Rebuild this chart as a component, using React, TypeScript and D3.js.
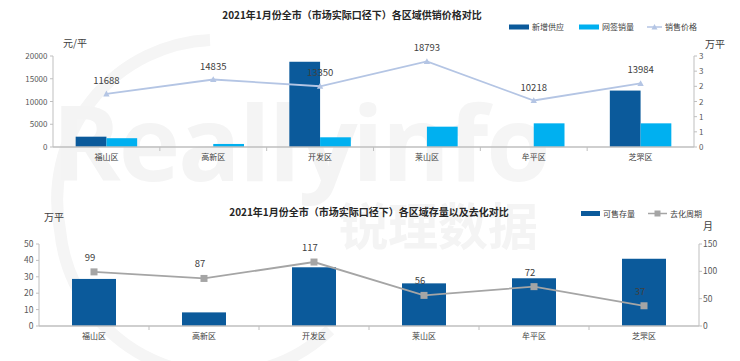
import React from "react";
import * as d3 from "d3";

const categories = ["福山区", "高新区", "开发区", "莱山区", "牟平区", "芝罘区"];
const newSupply = [0.34, 0, 2.81, 0, 0, 1.86];
const netSales = [0.29, 0.1, 0.32, 0.67, 0.78, 0.78];
const salePrice = [11688, 14835, 13350, 18793, 10218, 13984];
const priceTicks = [0, 5000, 10000, 15000, 20000];
const areaTicks = [0, 0.5, 1, 1.5, 2, 2.5, 3];

const stock = [28.7, 8.3, 35.8, 26.0, 29.1, 41.0];
const cycle = [99, 87, 117, 56, 72, 37];
const stockTicks = [0, 10, 20, 30, 40, 50];
const cycleTicks = [0, 50, 100, 150];

const title1 = "2021年1月份全市（市场实际口径下）各区域供销价格对比";
const title2 = "2021年1月份全市（市场实际口径下）各区域存量以及去化对比";

const DARK = "#0b5a9b";
const LIGHT = "#00b0f0";
const PRICE = "#b4c5e4";
const GRAY = "#a5a5a5";
const AXIS = "#bfbfbf";
const FONT = "'Noto Sans CJK SC', 'Noto Sans', sans-serif";
const TXT = "#404040";

function tri(x: number, y: number, s: number) {
  return `M${x},${y - s}L${x + s},${y + s * 0.8}L${x - s},${y + s * 0.8}Z`;
}

export default function App() {
  const W = 740, H = 361;

  // top chart
  const t = { l: 53, r: 694, top: 56, base: 147 };
  const x1 = d3.scaleBand<string>().domain(categories).range([t.l, t.r]);
  const x1i = d3.scaleBand<string>().domain(["a", "b"]).range([0, 61.5]);
  const yPrice = d3.scaleLinear().domain([0, 20000]).range([t.base, t.top]);
  const yArea = d3.scaleLinear().domain([0, 3]).range([t.base, t.top]);
  const priceLine = d3.line<number>()
    .x((_, i) => x1(categories[i])! + x1.bandwidth() / 2)
    .y((d) => yPrice(d));

  // bottom chart
  const b = { l: 39, r: 699, top: 244, base: 326 };
  const x2 = d3.scaleBand<string>().domain(categories).range([b.l, b.r]);
  const barW2 = x2.step() * 0.4;
  const yStock = d3.scaleLinear().domain([0, 50]).range([b.base, b.top]);
  const yCycle = d3.scaleLinear().domain([0, 150]).range([b.base, b.top]);
  const cycleLine = d3.line<number>()
    .x((_, i) => x2(categories[i])! + x2.bandwidth() / 2)
    .y((d) => yCycle(d));

  return (
    <svg width={W} height={H} style={{ position: "absolute", left: 0, top: 0, fontFamily: FONT }}>
      <rect width={W} height={H} fill="#fff" />
      {/* watermark */}
      <g>
        <path d="M 210 40 A 160 160 0 0 0 60 230 A 160 160 0 0 0 330 330" fill="none" stroke="#f5f5f5" strokeWidth={12} />
        <text x={52} y={181} fontSize={104} fontWeight="bold" fill="#f4f4f4" fontFamily="'Open Sans', sans-serif" letterSpacing={-2}>Really</text>
        <text x={352} y={181} fontSize={104} fontWeight="bold" fill="#f5f5f5" fontFamily="'Open Sans', sans-serif" letterSpacing={-2}>info</text>
        <text x={338} y={245} fontSize={50} fontWeight="bold" fill="#f4f4f4">锐理数据</text>
      </g>

      {/* ===== Top chart ===== */}
      <text x={352} y={19} textAnchor="middle" fontSize={10} fontWeight="bold" fill="#262626">{title1}</text>
      {/* legend */}
      <g fontSize={8} fill={TXT}>
        <rect x={509} y={24.5} width={20} height={5} fill={DARK} />
        <text x={532} y={30}>新增供应</text>
        <rect x={579} y={24.5} width={20} height={5} fill={LIGHT} />
        <text x={602} y={30}>网签销量</text>
        <line x1={647} x2={662} y1={27} y2={27} stroke={PRICE} strokeWidth={1.5} />
        <path d={tri(654.5, 27, 3)} fill={PRICE} />
        <text x={665} y={30}>销售价格</text>
      </g>
      <text x={63} y={47} fontSize={10} fill={TXT}>元/平</text>
      <text x={705} y={48} fontSize={10} fill={TXT}>万平</text>

      {/* axes */}
      <line x1={t.l} x2={t.l} y1={t.top} y2={t.base} stroke={AXIS} />
      <line x1={t.r} x2={t.r} y1={t.top} y2={t.base} stroke={AXIS} />
      {priceTicks.map((v) => (
        <g key={"pt" + v}>
          <line x1={t.l - 3} x2={t.l} y1={yPrice(v)} y2={yPrice(v)} stroke={AXIS} />
          <text x={47.5} y={yPrice(v) + 3} textAnchor="end" fontSize={8} fill="#595959">{v}</text>
        </g>
      ))}
      {areaTicks.map((v) => (
        <g key={"at" + v}>
          <line x1={t.r} x2={t.r + 3} y1={yArea(v)} y2={yArea(v)} stroke={AXIS} />
          <text x={699} y={yArea(v) + 3} fontSize={8} fill="#595959">{d3.format(".0f")(v)}</text>
        </g>
      ))}

      {/* bars */}
      {categories.map((c, i) => {
        const gx = x1(c)! + (x1.bandwidth() - 61.5) / 2;
        return (
          <g key={"b1" + c}>
            {newSupply[i] > 0 && (
              <rect x={gx + x1i("a")!} y={yArea(newSupply[i])} width={x1i.bandwidth()} height={t.base - yArea(newSupply[i])} fill={DARK} />
            )}
            <rect x={gx + x1i("b")!} y={yArea(netSales[i])} width={x1i.bandwidth()} height={t.base - yArea(netSales[i])} fill={LIGHT} />
          </g>
        );
      })}
      <line x1={t.l} x2={t.r} y1={t.base} y2={t.base} stroke={AXIS} strokeWidth={1.5} />
      {categories.map((c, i) => (
        <g key={"c1" + c}>
          {i > 0 && <line x1={x1(c)!} x2={x1(c)!} y1={t.base} y2={t.base + 4} stroke={AXIS} />}
          <text x={x1(c)! + x1.bandwidth() / 2} y={160} textAnchor="middle" fontSize={8} fill={TXT}>{c}</text>
        </g>
      ))}
      {/* price line */}
      <path d={priceLine(salePrice)!} fill="none" stroke={PRICE} strokeWidth={1.8} />
      {salePrice.map((v, i) => {
        const cx = x1(categories[i])! + x1.bandwidth() / 2;
        return (
          <g key={"p" + i}>
            <path d={tri(cx, yPrice(v), 3.2)} fill={PRICE} />
            <text x={cx} y={yPrice(v) - 10} textAnchor="middle" fontSize={9.5} fill={TXT}>{v}</text>
          </g>
        );
      })}

      {/* ===== Bottom chart ===== */}
      <text x={369} y={216} textAnchor="middle" fontSize={10} fontWeight="bold" fill="#262626">{title2}</text>
      <g fontSize={8} fill={TXT}>
        <rect x={581} y={211} width={19} height={5} fill={DARK} />
        <text x={603} y={216.5}>可售存量</text>
        <line x1={648} x2={667} y1={213.5} y2={213.5} stroke={GRAY} strokeWidth={1.5} />
        <rect x={654.5} y={210.5} width={6} height={6} fill={GRAY} />
        <text x={670} y={216.5}>去化周期</text>
      </g>
      <text x={44} y={221} fontSize={10} fill={TXT}>万平</text>
      <text x={703} y={230} fontSize={10} fill={TXT}>月</text>

      <line x1={b.l} x2={b.l} y1={b.top} y2={b.base} stroke={AXIS} />
      <line x1={b.r} x2={b.r} y1={b.top} y2={b.base} stroke={AXIS} />
      {stockTicks.map((v) => (
        <g key={"st" + v}>
          <line x1={b.l - 3} x2={b.l} y1={yStock(v)} y2={yStock(v)} stroke={AXIS} />
          <text x={33.5} y={yStock(v) + 3} textAnchor="end" fontSize={8.5} fill="#595959">{v}</text>
        </g>
      ))}
      {cycleTicks.map((v) => (
        <g key={"ct" + v}>
          <line x1={b.r} x2={b.r + 3} y1={yCycle(v)} y2={yCycle(v)} stroke={AXIS} />
          <text x={703} y={yCycle(v) + 3} fontSize={8.5} fill="#595959">{v}</text>
        </g>
      ))}
      {categories.map((c, i) => (
        <rect key={"b2" + c} x={x2(c)! + (x2.bandwidth() - barW2) / 2} y={yStock(stock[i])} width={barW2} height={b.base - yStock(stock[i])} fill={DARK} />
      ))}
      <line x1={b.l} x2={b.r} y1={b.base} y2={b.base} stroke={AXIS} strokeWidth={1.5} />
      {categories.map((c, i) => (
        <g key={"c2" + c}>
          {i > 0 && <line x1={x2(c)!} x2={x2(c)!} y1={b.base} y2={b.base + 4} stroke={AXIS} />}
          <text x={x2(c)! + x2.bandwidth() / 2} y={339} textAnchor="middle" fontSize={8} fill={TXT}>{c}</text>
        </g>
      ))}
      <path d={cycleLine(cycle)!} fill="none" stroke={GRAY} strokeWidth={1.8} />
      {cycle.map((v, i) => {
        const cx = x2(categories[i])! + x2.bandwidth() / 2;
        return (
          <g key={"q" + i}>
            <rect x={cx - 3.5} y={yCycle(v) - 3.5} width={7} height={7} fill={GRAY} />
            <text x={cx - 4} y={yCycle(v) - 11} textAnchor="middle" fontSize={9.5} fill={TXT}>{v}</text>
          </g>
        );
      })}
    </svg>
  );
}
